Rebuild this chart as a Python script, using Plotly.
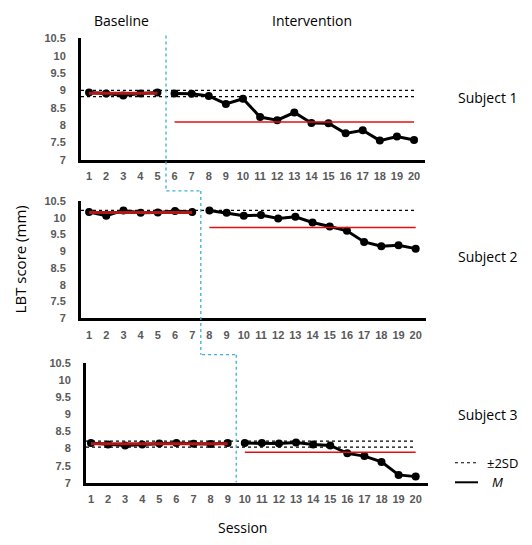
import plotly.graph_objects as go

# ---------------- data ----------------
sessions = list(range(1, 21))
subject_labels = ["Subject 1", "Subject 2", "Subject 3"]
baseline_len = [5, 7, 9]
phase_change = [5.5, 7.5, 9.5]

subject1 = [8.94, 8.91, 8.85, 8.91, 8.94, 8.91, 8.90, 8.84, 8.61, 8.76,
            8.23, 8.14, 8.36, 8.06, 8.05, 7.76, 7.85, 7.55, 7.67, 7.57]
subject2 = [10.17, 10.06, 10.22, 10.15, 10.16, 10.20, 10.17, 10.22, 10.15, 10.06,
            10.08, 9.98, 10.03, 9.86, 9.74, 9.61, 9.28, 9.15, 9.18, 9.08]
subject3 = [8.16, 8.12, 8.09, 8.12, 8.15, 8.16, 8.14, 8.13, 8.16, 8.16,
            8.16, 8.15, 8.18, 8.12, 8.09, 7.86, 7.78, 7.61, 7.23, 7.18]
scores = [subject1, subject2, subject3]

baseline_mean = [8.92, 10.16, 8.14]
intervention_mean = [8.09, 9.71, 7.89]
sd_upper = [9.00, 10.22, 8.22]
sd_lower = [8.82, None, 8.04]

y_ticks = [7, 7.5, 8, 8.5, 9, 9.5, 10, 10.5]
y_tick_text = ["7", "7.5", "8", "8.5", "9", "9.5", "10", "10.5"]

# ---------------- layout geometry ----------------
# the page body has an 8px margin, so the figure is offset by 8px
OFF = 8
W, H = 532 - OFF, 545 - OFF
def px(x):
    return (x - OFF) / W
def py(y):
    return 1 - (y - OFF) / H

x_domains = [[px(81), px(425)], [px(81), px(426)], [px(86), px(428)]]
x_ranges = [[0.53, 20.64], [0.53, 20.6], [0.71, 20.72]]
y_domains = [[py(157), py(33)], [py(319.3), py(199.3)], [py(487.5), py(365)]]

fig = go.Figure()
tick_font = dict(family="Liberation Sans, Arial, sans-serif", size=11, color="#595959",
                 weight="bold")

for i in range(3):
    xa = "x" if i == 0 else f"x{i+1}"
    ya = "y" if i == 0 else f"y{i+1}"
    nb = baseline_len[i]
    data = scores[i]
    fig.add_trace(go.Scatter(x=sessions[:nb], y=data[:nb], mode="lines+markers",
                             line=dict(color="black", width=3),
                             marker=dict(color="black", size=8),
                             xaxis=xa, yaxis=ya, showlegend=False))
    fig.add_trace(go.Scatter(x=sessions[nb:], y=data[nb:], mode="lines+markers",
                             line=dict(color="black", width=3),
                             marker=dict(color="black", size=8),
                             xaxis=xa, yaxis=ya, showlegend=False))
    for v in (sd_upper[i], sd_lower[i]):
        if v is None:
            continue
        fig.add_trace(go.Scatter(x=[x_ranges[i][0], sessions[-1]], y=[v, v], mode="lines",
                                 line=dict(color="black", width=1.2, dash="dot"),
                                 xaxis=xa, yaxis=ya, showlegend=False))
    fig.add_trace(go.Scatter(x=[sessions[0], sessions[nb - 1]], y=[baseline_mean[i]] * 2,
                             mode="lines", line=dict(color="#b01818", width=3),
                             xaxis=xa, yaxis=ya, showlegend=False))
    fig.add_trace(go.Scatter(x=[sessions[nb], sessions[-1]], y=[intervention_mean[i]] * 2,
                             mode="lines", line=dict(color="#e01010", width=1.5),
                             xaxis=xa, yaxis=ya, showlegend=False))

    xkey = "xaxis" if i == 0 else f"xaxis{i+1}"
    ykey = "yaxis" if i == 0 else f"yaxis{i+1}"
    fig.layout[xkey] = dict(domain=x_domains[i], range=x_ranges[i], anchor=ya,
                            showline=True, linecolor="black", linewidth=3,
                            tickvals=sessions, ticktext=[str(s) for s in sessions],
                            ticks="", showgrid=False, zeroline=False,
                            tickfont=tick_font, ticklabelstandoff=4, fixedrange=True)
    fig.layout[ykey] = dict(domain=y_domains[i], range=[7, 10.5], anchor=xa,
                            showline=True, linecolor="black", linewidth=3,
                            tickvals=y_ticks, ticktext=y_tick_text,
                            ticks="", showgrid=False, zeroline=False,
                            tickfont=tick_font, ticklabelstandoff=10, fixedrange=True)

cyan = dict(color="#3ab0d8", width=1.3, dash="dot")
shapes = [
    dict(type="line", xref="x", yref="paper", x0=phase_change[0], x1=phase_change[0],
         y0=py(30), y1=py(189), line=cyan),
    dict(type="line", xref="x2", yref="paper", x0=phase_change[0], x1=phase_change[1],
         y0=py(189), y1=py(189), line=cyan),
    dict(type="line", xref="x2", yref="paper", x0=phase_change[1], x1=phase_change[1],
         y0=py(189), y1=py(356.5), line=cyan),
    dict(type="line", xref="x3", yref="paper", x0=phase_change[1], x1=phase_change[2],
         y0=py(356.5), y1=py(356.5), line=cyan),
    dict(type="line", xref="x3", yref="paper", x0=phase_change[2], x1=phase_change[2],
         y0=py(356.5), y1=py(487), line=cyan),
    dict(type="line", xref="paper", yref="paper", x0=px(455), x1=px(478),
         y0=py(467), y1=py(467), line=dict(color="black", width=1.2, dash="dot")),
    dict(type="line", xref="paper", yref="paper", x0=px(455), x1=px(478),
         y0=py(487), y1=py(487), line=dict(color="black", width=2)),
]
fig.update_layout(shapes=shapes)

text_font = dict(family="Open Sans, sans-serif", size=14, color="black")
def ann(text, x, y, font=text_font, anchor="center", angle=0):
    return dict(text=text, x=px(x), y=py(y), xref="paper", yref="paper",
                showarrow=False, font=font, xanchor=anchor, yanchor="middle",
                textangle=angle, borderpad=0)

annotations = [
    ann("Baseline", 121, 15),
    ann("Intervention", 312, 15),
    ann(subject_labels[0], 488, 93),
    ann(subject_labels[1], 488, 256),
    ann(subject_labels[2], 488, 418),
    ann("LBT score (mm)", 20, 259,
        font=dict(family="Open Sans, sans-serif", size=15, color="black"), angle=-90),
    ann("Session", 242, 533),
    ann("±2SD", 486, 467, font=dict(family="Open Sans, sans-serif", size=13, color="black"),
        anchor="left"),
    ann("<i>M</i>", 491, 487, font=dict(family="Open Sans, sans-serif", size=13, color="black"),
        anchor="left"),
]
fig.update_layout(annotations=annotations)

fig.update_layout(width=W, height=H, margin=dict(l=0, r=0, t=0, b=0),
                  paper_bgcolor="white", plot_bgcolor="white", showlegend=False)

fig.write_html("out.html")
